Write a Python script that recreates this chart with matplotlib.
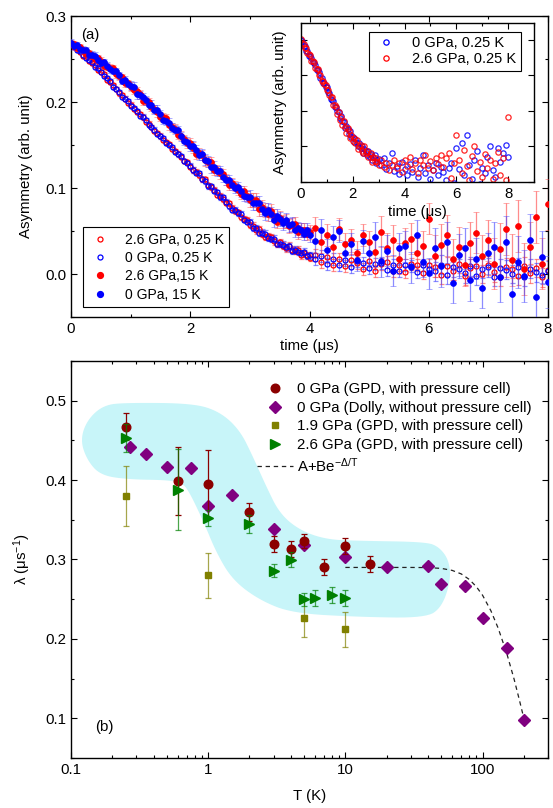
import numpy as np
import matplotlib
matplotlib.use("Agg")
import matplotlib.pyplot as plt
from matplotlib.lines import Line2D
from matplotlib.ticker import MultipleLocator, FixedLocator, FixedFormatter, LogLocator, NullFormatter, FormatStrFormatter

plt.rcParams['font.family'] = ['Liberation Sans', 'DejaVu Sans']
plt.rcParams['mathtext.fontset'] = 'custom'
plt.rcParams['mathtext.rm'] = 'Liberation Sans'
plt.rcParams['mathtext.it'] = 'Liberation Sans:italic'
plt.rcParams['font.size'] = 10.8

# ---------------- panel (a): asymmetry vs time ----------------
t_dense = np.round(np.arange(0, 4.0001, 0.05), 2)     # 81 bins
t_sparse = np.round(np.arange(4.1, 8.0001, 0.1), 2)   # 40 bins
t_main = np.concatenate([t_dense, t_sparse])

red_open = [.268,.264,.263,.258,.254,.253,.248,.245,.243,.237,
            .235,.232,.226,.223,.220,.215,.210,.208,.204,.199,
            .197,.192,.188,.186,.182,.177,.175,.171,.166,.164,
            .161,.156,.153,.151,.145,.143,.140,.136,.131,.130,
            .125,.121,.119,.115,.110,.110,.103,.101,.098,.092,
            .091,.087,.083,.082,.077,.073,.072,.066,.064,.063,
            .057,.056,.051,.052,.047,.043,.044,.043,.038,.035,
            .037,.033,.030,.033,.028,.027,.028,.022,.024,.022,
            .019,
            .022,.014,.020,.011,.017,.009,.016,.013,.006,.015,
            .004,.012,.014,.003,.011,.002,.012,.010,.001,.011,
            .008,-.001,.009,.004,.012,-.002,.007,.009,.000,.010,
            .002,-.003,.008,.006,-.002,.009,.001,.007,-.004,.005]

blue_open = [.269,.265,.261,.259,.255,.251,.249,.246,.241,.239,
             .235,.230,.228,.224,.218,.215,.212,.206,.204,.201,
             .195,.193,.189,.184,.183,.179,.173,.171,.168,.163,
             .160,.158,.152,.150,.148,.142,.139,.137,.131,.129,
             .126,.121,.118,.117,.110,.108,.102,.102,.097,.095,
             .089,.089,.084,.079,.075,.075,.071,.070,.063,.061,
             .060,.054,.053,.048,.048,.047,.042,.041,.041,.035,
             .035,.034,.031,.032,.027,.028,.026,.024,.026,.021,
             .022,
             .017,.021,.012,.018,.010,.016,.008,.015,.013,.007,
             .012,.013,.005,.010,.004,.011,.009,.002,.010,.006,
             .003,.011,-.001,.008,.006,.001,.009,-.002,.006,.008,
             -.003,.007,.005,.000,.008,-.003,.006,.002,-.001,.004]

red_fill = [.268,.267,.263,.264,.260,.256,.257,.254,.250,.251,
            .248,.242,.241,.240,.239,.232,.230,.229,.222,.222,
            .218,.214,.213,.209,.201,.201,.200,.194,.192,.188,
            .183,.182,.181,.173,.171,.169,.162,.161,.157,.152,
            .152,.147,.140,.141,.138,.132,.130,.130,.121,.121,
            .117,.116,.110,.104,.106,.102,.098,.093,.096,.091,
            .086,.086,.086,.076,.078,.074,.070,.073,.068,.061,
            .065,.061,.062,.056,.057,.058,.049,.051,.051,.047,
            .049,
            .053,.037,.045,.031,.052,.035,.039,.025,.045,.037,
            .026,.049,.030,.039,.018,.036,.041,.024,.032,.064,
            .021,.034,.045,.017,.031,.010,.036,.048,.021,.039,
            .012,.029,.052,.016,.056,.006,.031,.066,.012,.081]

blue_fill = [.269,.265,.266,.262,.261,.260,.255,.255,.254,.249,
             .245,.246,.242,.238,.236,.236,.231,.225,.226,.221,
             .219,.218,.209,.208,.206,.202,.197,.197,.191,.191,
             .186,.179,.178,.176,.170,.168,.167,.160,.155,.154,
             .149,.149,.144,.138,.139,.133,.131,.124,.125,.120,
             .120,.113,.109,.109,.104,.100,.101,.096,.091,.090,
             .090,.082,.083,.083,.076,.071,.074,.070,.063,.068,
             .064,.059,.063,.057,.058,.051,.053,.051,.047,.051,
             .045,
             .038,.051,.028,.043,.050,.025,.035,.016,.038,.024,
             .043,.015,.027,.004,.030,.032,.008,.045,.014,.001,
             .030,.009,.037,-.010,.022,.030,-.007,.018,-.016,.024,
             .031,-.003,.037,-.023,.014,-.002,.040,-.027,.020,-.009]

err_open = [0.0025]*40 + [0.003]*20 + [0.004]*21 + [0.007]*20 + [0.011]*20
err_fill = [0.004]*20 + [0.005]*20 + [0.006]*20 + [0.008]*21 + [0.013]*10 + [0.018]*10 + [0.024]*10 + [0.030]*10

labels_a = ['2.6 GPa, 0.25 K', '0 GPa, 0.25 K', '2.6 GPa,15 K', '0 GPa, 15 K']

# ---------------- inset ----------------
t_in = np.concatenate([np.round(np.arange(0, 3.0001, 0.05), 2), np.round(np.arange(3.1, 8.0001, 0.1), 2)])
inset_red = [.202,.196,.194,.188,.189,.182,.180,.179,.170,.171,
             .169,.161,.159,.159,.151,.150,.142,.142,.138,.136,
             .129,.130,.122,.119,.119,.108,.108,.105,.096,.099,
             .087,.091,.080,.086,.077,.069,.076,.071,.062,.066,
             .057,.062,.055,.059,.046,.051,.052,.044,.040,.050,
             .040,.043,.035,.038,.041,.028,.035,.029,.034,.028,
             .023,
             .030,.021,.027,.017,.024,.031,.019,.026,.014,.030,
             .022,.035,.018,.027,.012,.031,.024,.037,.020,.029,
             .016,.033,.025,.038,.021,.034,.040,.005,.027,.066,
             .030,.012,.045,.022,.002,.036,.051,.015,.028,.007,
             .039,.019,.031,.004,.026,.042,.010,.033,.002,.092]
inset_blue = [.200,.198,.192,.192,.185,.184,.178,.178,.175,.169,
              .167,.165,.158,.157,.155,.146,.146,.140,.140,.134,
              .134,.126,.125,.117,.116,.114,.105,.105,.100,.099,
              .090,.093,.085,.084,.076,.079,.074,.068,.071,.063,
              .063,.056,.060,.054,.050,.054,.047,.050,.041,.046,
              .043,.037,.043,.035,.039,.030,.035,.037,.027,.030,
              .032,
              .024,.033,.018,.027,.041,.015,.022,.011,.028,.018,
              .009,.025,.014,.030,.007,.019,.038,.012,.024,.004,
              .017,.026,.009,.021,.013,.003,.020,.027,-.002,.047,
              .018,.055,.009,.066,.024,.004,.031,.043,-.003,.020,
              .012,.035,.050,.016,.006,.047,.028,.041,.052,.035]
labels_in = ['0 GPa, 0.25 K', '2.6 GPa, 0.25 K']

# ---------------- panel (b): lambda vs T ----------------
T_gpd0 = [0.25, 0.6, 1.0, 2.0, 3.0, 4.0, 5.0, 7.0, 10.0, 15.0]
lam_gpd0 = [0.467, 0.399, 0.395, 0.360, 0.320, 0.313, 0.323, 0.291, 0.317, 0.294]
err_gpd0 = [0.017, 0.043, 0.043, 0.011, 0.010, 0.010, 0.009, 0.010, 0.010, 0.010]

T_dolly = [0.27, 0.35, 0.5, 0.75, 1.0, 1.5, 3.0, 5.0, 10.0, 20.0, 40.0, 50.0, 75.0, 100.0, 150.0, 200.0]
lam_dolly = [0.442, 0.433, 0.416, 0.415, 0.368, 0.381, 0.338, 0.318, 0.303, 0.290, 0.292, 0.269, 0.266, 0.226, 0.188, 0.098]

T_19 = [0.25, 1.0, 5.0, 10.0]
lam_19 = [0.380, 0.280, 0.226, 0.212]
err_19 = [0.038, 0.028, 0.024, 0.022]

T_26 = [0.25, 0.6, 1.0, 2.0, 3.0, 4.0, 5.0, 6.0, 8.0, 10.0]
lam_26 = [0.453, 0.388, 0.352, 0.345, 0.286, 0.300, 0.250, 0.252, 0.255, 0.252]
err_26 = [0.018, 0.051, 0.010, 0.011, 0.008, 0.010, 0.008, 0.010, 0.010, 0.010]

T_fit = [10, 20, 30, 40, 50, 60, 70, 80, 90, 100, 115, 130, 150, 170, 185, 200]
lam_fit = [0.290, 0.290, 0.290, 0.2898, 0.2888, 0.2863, 0.2818, 0.2749, 0.2659, 0.255,
           0.2355, 0.2135, 0.182, 0.149, 0.124, 0.100]

blob_T = [0.117, 0.131, 0.1728, 0.2555, 0.778, 1.216, 1.699, 2.122, 2.656, 3.317, 4.635, 7.24,
          12.64, 38.5, 48.2, 56.9, 58.6, 50.6, 38.7, 12.64, 4.122, 2.374, 1.512, 1.151, 0.915,
          0.697, 0.623, 0.527, 0.2555, 0.1635, 0.131]
blob_lam = [0.4504, 0.4757, 0.4946, 0.4975, 0.4967, 0.4861, 0.4631, 0.4294, 0.3916, 0.358, 0.337,
            0.3252, 0.3235, 0.3222, 0.3159, 0.2991, 0.2739, 0.2402, 0.2264, 0.2276, 0.2323, 0.2487,
            0.2739, 0.3079, 0.3496, 0.3916, 0.3958, 0.40, 0.4009, 0.4063, 0.4252]

labels_b = ['0 GPa (GPD, with pressure cell)', '0 GPa (Dolly, without pressure cell)',
            '1.9 GPa (GPD, with pressure cell)', '2.6 GPa (GPD, with pressure cell)',
            'A+Be$^{\\mathregular{-Δ/T}}$']

# ======================================================================
W, H = 553, 808
fig = plt.figure(figsize=(W / 100, H / 100), dpi=100)
ax1 = fig.add_axes([71 / W, 1 - 317 / H, 477 / W, 301 / H])
ax2 = fig.add_axes([71 / W, 1 - 758 / H, 477 / W, 397 / H])
axin = fig.add_axes([301 / W, 1 - 181.7 / H, 233 / W, 159 / H])

def style(ax):
    ax.tick_params(which='both', direction='in', top=True, right=True, width=0.8)
    ax.tick_params(which='major', length=4.5)
    ax.tick_params(which='minor', length=2.5)
    for s in ax.spines.values():
        s.set_linewidth(1.0)

RED_E = (1.0, 0.25, 0.25, 0.6)
BLUE_E = (0.25, 0.25, 1.0, 0.6)

# panel (a)
ax1.errorbar(t_main, red_open, yerr=err_open, fmt='o', ms=3.6, mfc='none', mec='red', mew=0.9,
             ecolor=RED_E, elinewidth=0.8, capsize=1.8, capthick=0.8, zorder=2)
ax1.errorbar(t_main, blue_open, yerr=err_open, fmt='o', ms=3.6, mfc='none', mec='blue', mew=0.9,
             ecolor=BLUE_E, elinewidth=0.8, capsize=1.8, capthick=0.8, zorder=2)
ax1.errorbar(t_main, red_fill, yerr=err_fill, fmt='o', ms=4.2, mfc='red', mec='red', mew=0.5,
             ecolor=RED_E, elinewidth=0.9, capsize=2.4, capthick=0.9, zorder=3)
ax1.errorbar(t_main, blue_fill, yerr=err_fill, fmt='o', ms=4.2, mfc='blue', mec='blue', mew=0.5,
             ecolor=BLUE_E, elinewidth=0.9, capsize=2.4, capthick=0.9, zorder=3)
ax1.set_xlim(0, 8)
ax1.set_ylim(-0.05, 0.3)
ax1.xaxis.set_major_locator(MultipleLocator(2))
ax1.xaxis.set_minor_locator(MultipleLocator(1))
ax1.yaxis.set_major_locator(MultipleLocator(0.1))
ax1.yaxis.set_minor_locator(MultipleLocator(0.05))
ax1.yaxis.set_major_formatter(FormatStrFormatter('%.1f'))
style(ax1)
ax1.set_xlabel('time (μs)')
ax1.set_ylabel('Asymmetry (arb. unit)')
ax1.xaxis.set_label_coords(0.5, -0.074)
ax1.yaxis.set_label_coords(-0.08, 0.5)
ax1.text(0.04, 0.937, '(a)', transform=ax1.transAxes, ha='center', va='center')
h_a = [Line2D([], [], ls='none', marker='o', ms=3.6, mfc='none', mec='red', mew=0.9),
       Line2D([], [], ls='none', marker='o', ms=3.6, mfc='none', mec='blue', mew=0.9),
       Line2D([], [], ls='none', marker='o', ms=4.2, color='red'),
       Line2D([], [], ls='none', marker='o', ms=4.2, color='blue')]
leg = ax1.legend(h_a, labels_a, loc='lower left', bbox_to_anchor=(0.025, 0.033), borderaxespad=0,
                 fontsize=10, frameon=True, fancybox=False, edgecolor='black', framealpha=1,
                 handlelength=1.7, handletextpad=0.9, labelspacing=0.3, borderpad=0.4)
leg.get_frame().set_linewidth(0.8)

# inset
axin.plot(t_in, inset_blue, 'o', ms=3.8, mfc='none', mec='blue', mew=0.9, alpha=0.85)
axin.plot(t_in, inset_red, 'o', ms=3.8, mfc='none', mec='red', mew=0.9, alpha=0.85)
axin.set_xlim(0, 9)
axin.set_ylim(0, 0.2244)
axin.xaxis.set_major_locator(MultipleLocator(2))
axin.xaxis.set_minor_locator(MultipleLocator(1))
axin.yaxis.set_major_locator(MultipleLocator(0.05))
axin.set_yticklabels([])
style(axin)
axin.set_xlabel('time (μs)')
axin.set_ylabel('Asymmetry (arb. unit)')
axin.xaxis.set_label_coords(0.5, -0.145)
axin.yaxis.set_label_coords(-0.06, 0.5)
h_in = [Line2D([], [], ls='none', marker='o', ms=3.8, mfc='none', mec='blue', mew=0.9),
        Line2D([], [], ls='none', marker='o', ms=3.8, mfc='none', mec='red', mew=0.9)]
leg2 = axin.legend(h_in, labels_in, loc='upper right', bbox_to_anchor=(0.944, 0.943), borderaxespad=0,
                   fontsize=10.5, frameon=True, fancybox=False, edgecolor='black', framealpha=1,
                   handlelength=1.8, handletextpad=0.9, labelspacing=0.15, borderpad=0.3)
leg2.get_frame().set_linewidth(0.8)

# panel (b)
ax2.set_xscale('log')
# smooth the outline of the shaded guide region (corner cutting in log-T space)
bx = np.log10(np.asarray(blob_T, float))
by = np.asarray(blob_lam, float)
for _ in range(3):
    nx, ny = np.roll(bx, -1), np.roll(by, -1)
    qx, qy = 0.75 * bx + 0.25 * nx, 0.75 * by + 0.25 * ny
    rx, ry = 0.25 * bx + 0.75 * nx, 0.25 * by + 0.75 * ny
    bx = np.column_stack([qx, rx]).ravel()
    by = np.column_stack([qy, ry]).ravel()
ax2.fill(10 ** bx, by, color='#c8f5f9', lw=0, zorder=0)
ax2.plot(T_fit, lam_fit, ls=(0, (3.5, 3)), color='#222222', lw=0.9, zorder=1)
ax2.plot(T_dolly, lam_dolly, ls='none', marker='D', ms=6, color='#800080', zorder=3)
ax2.errorbar(T_gpd0, lam_gpd0, yerr=err_gpd0, fmt='o', ms=6.2, color='#8b0000', ecolor='#8b0000',
             elinewidth=0.9, capsize=2.5, capthick=0.9, zorder=4)
ax2.plot(T_gpd0, lam_gpd0, ls='none', marker='o', ms=2.5, color='#d88080', mew=0, zorder=4)
ax2.errorbar(T_19, lam_19, yerr=err_19, fmt='s', ms=4.6, color='#808000', ecolor=(0.5, 0.5, 0.0, 0.7),
             elinewidth=0.9, capsize=2.5, capthick=0.9, zorder=4)
ax2.errorbar(T_26, lam_26, yerr=err_26, fmt='>', ms=7, color='#008000', ecolor=(0.0, 0.5, 0.0, 0.7),
             elinewidth=0.9, capsize=2.5, capthick=0.9, zorder=5)
ax2.set_xlim(0.1, 300)
ax2.set_ylim(0.05, 0.55)
ax2.xaxis.set_major_locator(FixedLocator([0.1, 1, 10, 100]))
ax2.xaxis.set_major_formatter(FixedFormatter(['0.1', '1', '10', '100']))
ax2.xaxis.set_minor_locator(LogLocator(base=10, subs=np.arange(2, 10), numticks=20))
ax2.xaxis.set_minor_formatter(NullFormatter())
ax2.yaxis.set_major_locator(MultipleLocator(0.1))
ax2.yaxis.set_minor_locator(MultipleLocator(0.05))
ax2.yaxis.set_major_formatter(FormatStrFormatter('%.1f'))
style(ax2)
ax2.set_xlabel('T (K)')
ax2.set_ylabel('λ (μs$^{\\mathregular{-1}}$)')
ax2.xaxis.set_label_coords(0.5, -0.078)
ax2.yaxis.set_label_coords(-0.08, 0.5)
ax2.text(0.071, 0.078, '(b)', transform=ax2.transAxes, ha='center', va='center')
h_b = [Line2D([], [], ls='none', marker='o', ms=6.2, color='#8b0000'),
       Line2D([], [], ls='none', marker='D', ms=6, color='#800080'),
       Line2D([], [], ls='none', marker='s', ms=4.6, color='#808000'),
       Line2D([], [], ls='none', marker='>', ms=7, color='#008000'),
       Line2D([], [], ls=(0, (3.5, 3)), color='#222222', lw=0.9)]
ax2.legend(h_b, labels_b, loc='upper left', bbox_to_anchor=(0.39, 0.946), borderaxespad=0,
           frameon=False, fontsize=10.8, handlelength=2.4, handletextpad=0.25,
           labelspacing=0.3, borderpad=0)

fig.savefig('out.png', dpi=100)
